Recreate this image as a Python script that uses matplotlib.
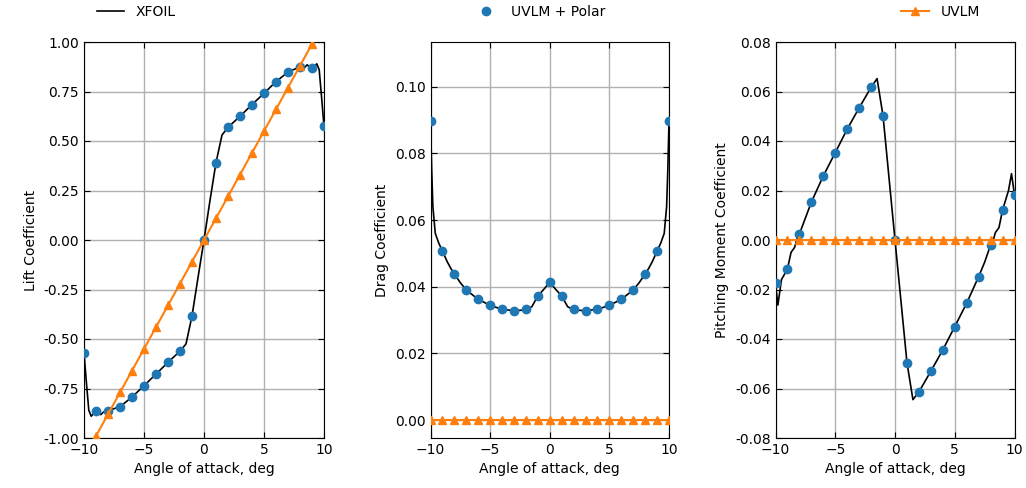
import matplotlib
matplotlib.use("Agg")
import matplotlib.pyplot as plt

# ---------------- data ----------------
alpha_pts = [-10, -9, -8, -7, -6, -5, -4, -3, -2, -1, 0, 1, 2, 3, 4, 5, 6, 7, 8, 9, 10]

cl_polar = [-0.569, -0.862, -0.862, -0.842, -0.793, -0.736, -0.677, -0.618, -0.561, -0.384, 0.0,
            0.391, 0.569, 0.625, 0.684, 0.741, 0.800, 0.848, 0.875, 0.869, 0.574]
cl_uvlm = [-1.10, -0.99, -0.88, -0.77, -0.66, -0.55, -0.44, -0.33, -0.22, -0.11, 0.0,
           0.11, 0.22, 0.33, 0.44, 0.55, 0.66, 0.77, 0.88, 0.99, 1.10]

cd_polar = [0.0898, 0.0507, 0.0438, 0.0390, 0.0362, 0.0344, 0.0332, 0.0328, 0.0332, 0.0372, 0.0413,
            0.0372, 0.0332, 0.0328, 0.0332, 0.0344, 0.0362, 0.0390, 0.0438, 0.0507, 0.0898]
cd_uvlm = [0.0] * 21

cm_polar = [-0.0175, -0.0117, 0.0024, 0.0153, 0.0259, 0.0353, 0.0448, 0.0534, 0.0617, 0.0501, 0.0,
            -0.0495, -0.0614, -0.0530, -0.0444, -0.0350, -0.0255, -0.0148, -0.0020, 0.0121, 0.0181]
cm_uvlm = [0.0] * 21

# XFOIL (dense)
alpha_xf_cl = [-10, -9.8, -9.6, -9.4, -9.2, -9.0, -8.8, -8.6, -8.4, -8.0, -7.0, -6.0, -5.0, -4.0,
               -3.0, -2.0, -1.5, -1.0, -0.5, 0.0, 0.5, 1.0, 1.5, 2.0, 3.0, 4.0, 5.0, 6.0, 7.0,
               8.0, 8.4, 8.6, 8.8, 9.0, 9.2, 9.4, 9.6, 9.8, 10.0]
cl_xfoil = [-0.569, -0.72, -0.86, -0.89, -0.875, -0.885, -0.872, -0.882, -0.870, -0.862, -0.842,
            -0.793, -0.736, -0.677, -0.618, -0.561, -0.525, -0.384, -0.19, 0.0, 0.20, 0.391,
            0.530, 0.569, 0.625, 0.684, 0.741, 0.800, 0.848, 0.875, 0.872, 0.885, 0.872, 0.886,
            0.875, 0.890, 0.86, 0.72, 0.574]

alpha_xf_cd = [-10, -9.9, -9.8, -9.6, -9.3, -9.0, -8.6, -8.3, -8.0, -7.5, -7.0, -6.0, -5.0, -4.0,
               -3.0, -2.0, -1.5, -1.0, -0.5, 0.0, 0.5, 1.0, 1.5, 2.0, 3.0, 4.0, 5.0, 6.0, 7.0,
               7.5, 8.0, 8.3, 8.6, 9.0, 9.3, 9.6, 9.8, 9.9, 10]
cd_xfoil = [0.0898, 0.075, 0.064, 0.056, 0.053, 0.0507, 0.0475, 0.0455, 0.0438, 0.0412, 0.0390,
            0.0362, 0.0344, 0.0332, 0.0328, 0.0330, 0.0340, 0.0372, 0.0392, 0.0413, 0.0392,
            0.0372, 0.0340, 0.0330, 0.0328, 0.0332, 0.0344, 0.0362, 0.0390, 0.0412, 0.0438,
            0.0455, 0.0475, 0.0507, 0.053, 0.056, 0.064, 0.075, 0.0898]

alpha_xf_cm = [-10, -9.8, -9.5, -9.0, -8.7, -8.4, -8.2, -8.0, -7.0, -6.0, -5.0, -4.0, -3.0, -2.0,
               -1.5, -1.0, 0.0, 1.0, 1.5, 2.0, 3.0, 4.0, 5.0, 6.0, 7.0, 7.5, 8.0, 8.2, 8.4, 8.7,
               9.0, 9.5, 9.75, 10.0]
cm_xfoil = [-0.0175, -0.0263, -0.016, -0.0117, -0.005, -0.003, 0.0005, 0.0024, 0.0153, 0.0259,
            0.0353, 0.0448, 0.0534, 0.0617, 0.0652, 0.0501, 0.0, -0.0495, -0.0645, -0.0614,
            -0.0530, -0.0444, -0.0350, -0.0255, -0.0148, -0.0090, -0.0020, -0.0005, 0.003, 0.005,
            0.0121, 0.020, 0.0268, 0.0181]

xticks = [-10, -5, 0, 5, 10]

# ---------------- figure ----------------
fig = plt.figure(figsize=(10.26, 4.88), dpi=100)
W, H = 1026, 488
boxes = [(84, 324), (430.5, 669), (775.5, 1014.5)]
top_px, bot_px = 42, 438
axes = []
for (l, r) in boxes:
    ax = fig.add_axes([l / W, (H - bot_px) / H, (r - l) / W, (bot_px - top_px) / H])
    axes.append(ax)

specs = [
    (cl_xfoil, alpha_xf_cl, cl_polar, cl_uvlm, "Lift Coefficient", (-1.0, 1.0),
     [-1.0, -0.75, -0.5, -0.25, 0.0, 0.25, 0.5, 0.75, 1.0], "{:.2f}"),
    (cd_xfoil, alpha_xf_cd, cd_polar, cd_uvlm, "Drag Coefficient", (-0.0054, 0.1134),
     [0.0, 0.02, 0.04, 0.06, 0.08, 0.10], "{:.2f}"),
    (cm_xfoil, alpha_xf_cm, cm_polar, cm_uvlm, "Pitching Moment Coefficient", (-0.08, 0.08),
     [-0.08, -0.06, -0.04, -0.02, 0.0, 0.02, 0.04, 0.06, 0.08], "{:.2f}"),
]

handles = None
for ax, (yx, ax_x, yp, yu, ylab, ylim, yt, fmt) in zip(axes, specs):
    h1, = ax.plot(ax_x, yx, color="black", lw=1.2, label="XFOIL", zorder=3)
    h2, = ax.plot(alpha_pts, yp, "o", color="#1f77b4", ms=6, label="UVLM + Polar", zorder=4)
    h3, = ax.plot(alpha_pts, yu, "-^", color="#ff7f0e", ms=6, lw=1.5, label="UVLM", zorder=5)
    handles = [h1, h2, h3]
    ax.set_xlim(-10, 10)
    ax.set_ylim(*ylim)
    ax.set_xticks(xticks)
    ax.set_yticks(yt)
    ax.set_yticklabels([fmt.format(v) for v in yt])
    ax.grid(True, color="#b0b0b0", lw=1.0)
    ax.set_axisbelow(True)
    ax.tick_params(direction="in", top=True, right=True, length=4)
    ax.set_xlabel("Angle of attack, deg")
    ax.set_ylabel(ylab)

fig.legend(handles, ["XFOIL", "UVLM + Polar", "UVLM"], loc="lower left", ncol=3,
           mode="expand", frameon=False, bbox_to_anchor=(0.082, 0.935, 0.885, 0.06),
           handlelength=2.0)

fig.savefig("out.png", dpi=100)
